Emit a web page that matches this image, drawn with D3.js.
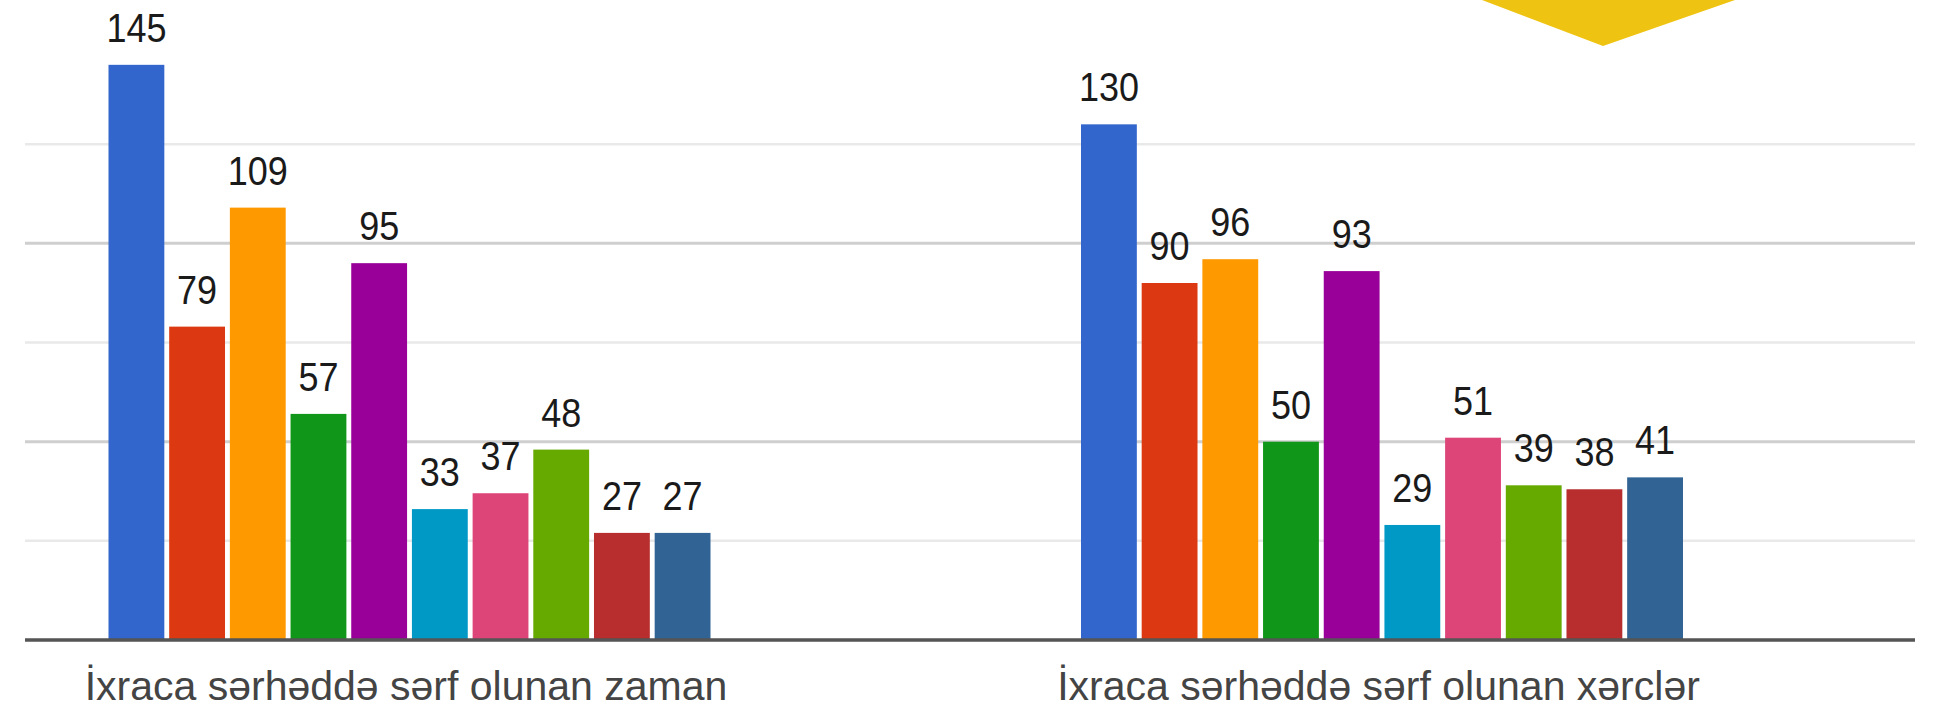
<!DOCTYPE html>
<html>
<head>
<meta charset="utf-8">
<script src="https://cdn.jsdelivr.net/npm/d3@7"></script>
<style>
  html, body { margin: 0; padding: 0; background: #ffffff; }
  svg { display: block; }
</style>
</head>
<body>
<svg id="chart" width="1944" height="714"></svg>
<script>
// ---- data ----
const categories = ["İxraca sərhəddə sərf olunan zaman", "İxraca sərhəddə sərf olunan xərclər"];
const seriesNames = ["s1", "s2", "s3", "s4", "s5", "s6", "s7", "s8", "s9", "s10"];
const valuesZaman = [145, 79, 109, 57, 95, 33, 37, 48, 27, 27];
const valuesXercler = [130, 90, 96, 50, 93, 29, 51, 39, 38, 41];
const colors = ["#3366cc", "#dc3912", "#ff9900", "#109618", "#990099", "#0099c6", "#dd4477", "#66aa00", "#b82e2e", "#316395"];
const gridTicks = [25, 50, 75, 100, 125];
const majorTicks = [50, 100];

const values = [valuesZaman, valuesXercler];

const svg = d3.select("#chart");

const y = d3.scaleLinear().domain([0, 150]).range([640, 45]);
const x0 = d3.scalePoint().domain(categories).range([409.5, 1382]);
const x1 = d3.scaleBand().domain(seriesNames).range([-301, 301]).paddingInner(0.08);

const plotLeft = 25, plotRight = 1915;

// gridlines
svg.append("g").selectAll("line")
  .data(gridTicks)
  .join("line")
  .attr("x1", plotLeft).attr("x2", plotRight)
  .attr("y1", d => y(d)).attr("y2", d => y(d))
  .attr("stroke", d => majorTicks.includes(d) ? "#cfcfcf" : "#e9e9e9")
  .attr("stroke-width", d => majorTicks.includes(d) ? 3 : 2.5);

// decorative yellow shape (top right)
svg.append("path")
  .attr("d", "M1482,0 L1735,0 L1603,46 Z")
  .attr("fill", "#efc311");

// bars
const groups = svg.append("g").selectAll("g")
  .data(categories)
  .join("g")
  .attr("transform", d => `translate(${x0(d)},0)`);

groups.each(function(cat, ci) {
  const g = d3.select(this);
  const data = values[ci].map((v, i) => ({ name: seriesNames[i], value: v, color: colors[i] }));
  g.selectAll("rect")
    .data(data)
    .join("rect")
    .attr("x", d => x1(d.name))
    .attr("width", x1.bandwidth())
    .attr("y", d => y(d.value))
    .attr("height", d => y(0) - y(d.value))
    .attr("fill", d => d.color);
  g.selectAll("text.val")
    .data(data)
    .join("text")
    .attr("class", "val")
    .attr("transform", d => `translate(${x1(d.name) + x1.bandwidth() / 2},${y(d.value) - 23}) scale(0.9,1.03)`)
    .attr("text-anchor", "middle")
    .attr("font-family", "'Liberation Sans', Arial, sans-serif")
    .attr("font-size", 40)
    .attr("fill", "#1a1a1a")
    .text(d => d.value);
});

// baseline axis
svg.append("line")
  .attr("x1", plotLeft).attr("x2", plotRight)
  .attr("y1", y(0)).attr("y2", y(0))
  .attr("stroke", "#555555")
  .attr("stroke-width", 3.5);

// category labels via axis
const xAxis = d3.axisBottom(x0).tickSize(0).tickPadding(0);
const axG = svg.append("g").attr("transform", `translate(0,${y(0)})`).call(xAxis);
axG.select(".domain").remove();
axG.selectAll("text")
  .attr("y", 60)
  .attr("dy", 0)
  .attr("x", -4)
  .attr("font-family", "'Liberation Sans', Arial, sans-serif")
  .attr("font-size", 41)
  .attr("fill", "#444444");
</script>
</body>
</html>
